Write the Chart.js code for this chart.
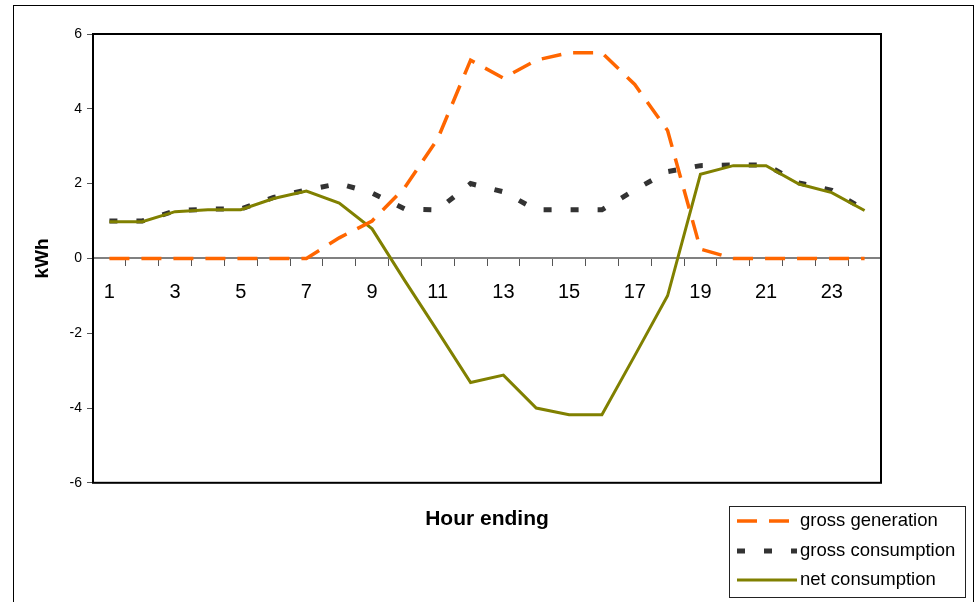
<!DOCTYPE html>
<html>
<head>
<meta charset="utf-8">
<script src="https://cdn.jsdelivr.net/npm/chart.js@4"></script>
<style>
  html, body { margin: 0; padding: 0; background: #fff; }
  #wrap { width: 977px; height: 602px; }
</style>
</head>
<body>
<div id="wrap"><canvas id="chart" width="977" height="602"></canvas></div>
<script>
const hours = ['1','2','3','4','5','6','7','8','9','10','11','12','13','14','15','16','17','18','19','20','21','22','23','24'];
const grossGeneration = [0, 0, 0, 0, 0, 0, 0, 0.55, 1.0, 1.9, 3.2, 5.3, 4.82, 5.3, 5.5, 5.5, 4.65, 3.42, 0.25, 0, 0, 0, 0, 0];
const grossConsumption = [1.0, 1.0, 1.27, 1.32, 1.32, 1.63, 1.83, 2.0, 1.75, 1.32, 1.3, 2.0, 1.78, 1.3, 1.3, 1.3, 1.83, 2.32, 2.48, 2.5, 2.5, 2.02, 1.82, 1.3];
const netConsumption = [0.98, 0.98, 1.25, 1.3, 1.3, 1.6, 1.8, 1.48, 0.79, -0.6, -1.95, -3.32, -3.12, -4.0, -4.18, -4.18, -2.6, -1.0, 2.25, 2.48, 2.48, 1.99, 1.76, 1.28];
const yTicks = [-6, -4, -2, 0, 2, 4, 6];

const FONT = "'Liberation Sans', Arial, sans-serif";

// outer frame, plot frame and the boxed legend
const framePlugin = {
  id: 'frames',
  beforeDraw(chart) {
    const ctx = chart.ctx;
    ctx.save();
    ctx.strokeStyle = '#000';
    ctx.lineWidth = 1;
    ctx.strokeRect(13.5, 5.5, 960, 640);
    ctx.restore();
  },
  afterDraw(chart) {
    const ctx = chart.ctx;
    const a = chart.chartArea;
    ctx.save();
    ctx.strokeStyle = '#000';
    ctx.lineWidth = 2;
    ctx.strokeRect(a.left, a.top, a.right - a.left, a.bottom - a.top);

    // legend
    const bx = 729.5, by = 506.5, bw = 236, bh = 91;
    ctx.lineWidth = 1;
    ctx.strokeStyle = '#222';
    ctx.strokeRect(bx, by, bw, bh);
    const rows = [521, 551, 580];
    chart.data.datasets.forEach((ds, i) => {
      const y = rows[i];
      ctx.save();
      ctx.strokeStyle = ds.borderColor;
      ctx.lineWidth = ds.borderWidth;
      ctx.setLineDash(ds.borderDash || []);
      ctx.beginPath();
      ctx.moveTo(737, y);
      ctx.lineTo(797, y);
      ctx.stroke();
      ctx.restore();
      ctx.fillStyle = '#000';
      ctx.font = '18.5px ' + FONT;
      ctx.textBaseline = 'middle';
      ctx.fillText(ds.label, 800, y);
    });
    ctx.restore();
  }
};

new Chart(document.getElementById('chart'), {
  type: 'line',
  data: {
    labels: hours,
    datasets: [
      {
        label: 'gross generation',
        data: grossGeneration,
        borderColor: '#FF6600',
        borderWidth: 3.5,
        borderDash: [20, 12],
        pointRadius: 0,
        tension: 0,
        order: 1
      },
      {
        label: 'gross consumption',
        data: grossConsumption,
        borderColor: '#333333',
        borderWidth: 5,
        borderDash: [8, 19],
        pointRadius: 0,
        tension: 0,
        order: 3
      },
      {
        label: 'net consumption',
        data: netConsumption,
        borderColor: '#808000',
        borderWidth: 3,
        pointRadius: 0,
        tension: 0,
        order: 2
      }
    ]
  },
  options: {
    responsive: false,
    animation: false,
    layout: { padding: { left: 0, top: 34, right: 96, bottom: 70 } },
    plugins: {
      legend: { display: false },
      tooltip: { enabled: false },
      title: {
        display: true,
        position: 'bottom',
        fullSize: false,
        text: 'Hour ending',
        color: '#000',
        font: { family: FONT, size: 21, weight: 'bold', lineHeight: 1.2 },
        padding: { top: 24, bottom: 0 }
      }
    },
    scales: {
      x: {
        position: { y: 0 },
        offset: true,
        grid: { offset: true, drawOnChartArea: false, drawTicks: true, tickLength: 7, tickColor: '#555', tickWidth: 1 },
        border: { color: '#808080', width: 2 },
        ticks: {
          autoSkip: false,
          maxRotation: 0,
          padding: 15,
          color: '#000',
          font: { family: FONT, size: 20 },
          callback: (v, i) => (i % 2 === 0 ? hours[i] : '')
        }
      },
      y: {
        min: -6,
        max: 6,
        afterBuildTicks: (s) => { s.ticks = yTicks.map(v => ({ value: v })); },
        afterFit: (s) => { s.width = 93; },
        grid: { drawOnChartArea: false, tickLength: 6, tickColor: '#555' },
        border: { color: '#000', width: 2 },
        ticks: { padding: 5, color: '#000', font: { family: FONT, size: 14 } },
        title: {
          display: true,
          text: 'kWh',
          color: '#000',
          font: { family: FONT, size: 19, weight: 'bold', lineHeight: 1.2 },
          padding: { top: 31, bottom: 0 }
        }
      }
    }
  },
  plugins: [framePlugin]
});
</script>
</body>
</html>
